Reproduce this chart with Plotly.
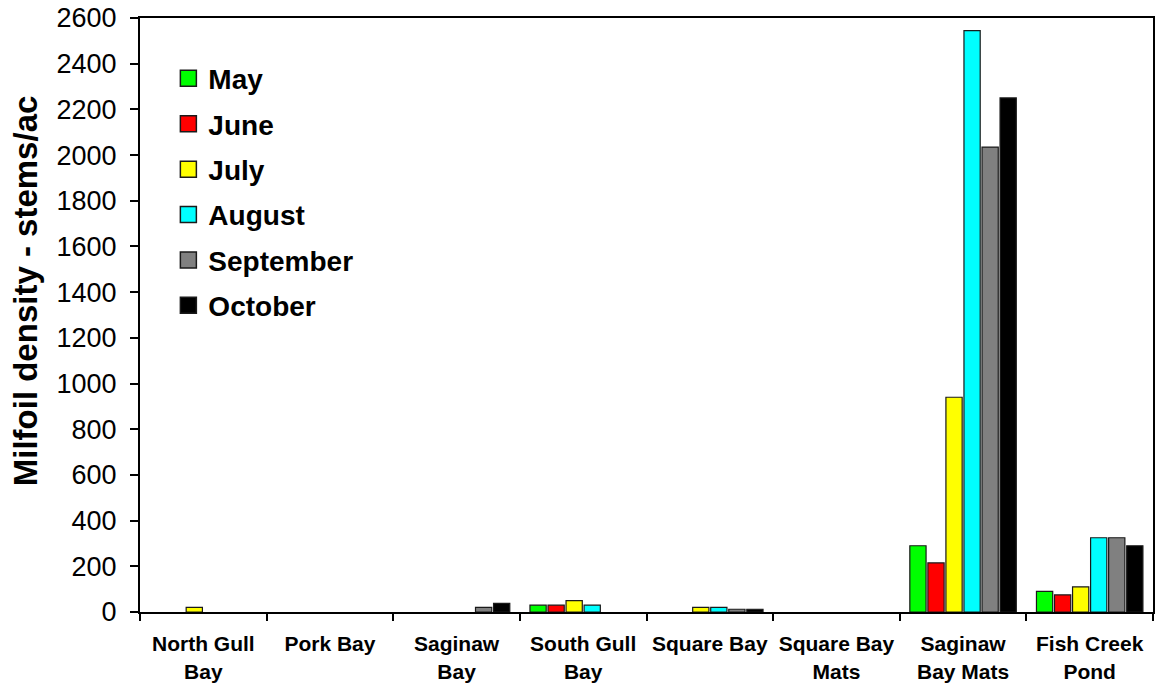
import plotly.graph_objects as go

# sites along the x axis
sites = ["North Gull<br>Bay", "Pork Bay", "Saginaw<br>Bay", "South Gull<br>Bay",
         "Square Bay", "Square Bay<br>Mats", "Saginaw<br>Bay Mats", "Fish Creek<br>Pond"]

# milfoil density (stems/ac), one list per month
may = [0, 0, 0, 30, 0, 0, 290, 90]
june = [0, 0, 0, 30, 0, 0, 215, 75]
july = [20, 0, 0, 50, 20, 0, 940, 110]
august = [0, 0, 0, 30, 20, 0, 2545, 325]
september = [0, 0, 20, 0, 12, 0, 2035, 325]
october = [0, 0, 38, 0, 12, 0, 2250, 290]

months = ["May", "June", "July", "August", "September", "October"]
series = [may, june, july, august, september, october]
colors = ["#00ff00", "#ff0000", "#ffff00", "#00ffff", "#808080", "#000000"]

font = "Arial, Liberation Sans, sans-serif"
edge = "#1a1a1a"

fig = go.Figure()
for name, vals, col in zip(months, series, colors):
    # zero readings draw no bar in the original
    fig.add_trace(go.Bar(
        x=sites, y=[v if v else None for v in vals], name=name, showlegend=False,
        marker=dict(color=col, line=dict(color=edge, width=1.2)),
    ))
    # legend swatch
    fig.add_trace(go.Scatter(
        x=[None], y=[None], mode="markers", name=name, legendgroup=name,
        marker=dict(symbol="square", size=16, color=col, line=dict(color=edge, width=1.5)),
    ))

fig.update_layout(
    width=1156, height=687,
    margin=dict(l=140, r=3, t=18, b=75),
    paper_bgcolor="white", plot_bgcolor="white",
    barmode="group", bargap=0.145, bargroupgap=0.1,
    font=dict(family=font, color="black"),
    showlegend=True,
    legend=dict(x=0.028, y=0.94, xanchor="left", yanchor="top",
                font=dict(size=28, family=font, weight="bold"),
                itemsizing="trace", tracegroupgap=6, bgcolor="rgba(0,0,0,0)"),
)

fig.update_xaxes(
    type="category", automargin=False,
    showline=True, linecolor="black", linewidth=2, mirror=True,
    ticks="outside", tickson="boundaries", ticklen=7, tickcolor="black", tickwidth=1.5,
    tickfont=dict(size=21, family=font, weight="bold"), tickangle=0,
    ticklabelstandoff=12, showgrid=False,
)
fig.update_yaxes(
    range=[0, 2600], dtick=200, automargin=False,
    showline=True, linecolor="black", linewidth=2, mirror=True,
    ticks="outside", ticklen=8, tickcolor="black", tickwidth=1.5,
    tickfont=dict(size=27, family=font), ticklabelstandoff=8, ticklabeloverflow="allow",
    showgrid=False, zeroline=False,
)

# y title sits a little above the middle of the axis in the original
fig.add_annotation(
    text="<b>Milfoil density - stems/ac</b>", textangle=-90,
    xref="paper", yref="paper", x=-0.1135, y=0.54, xanchor="center", yanchor="middle",
    showarrow=False, font=dict(size=33, family=font),
)

# drop the default body margin so the figure fills the window exactly
fig.write_html("out.html", config={"displayModeBar": False},
               post_script="document.body.style.margin='0';")
